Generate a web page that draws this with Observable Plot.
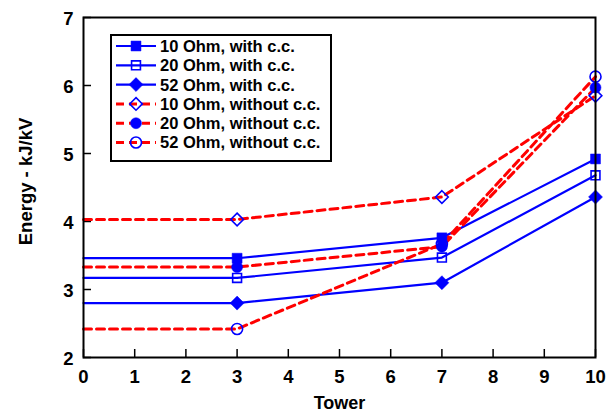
<!DOCTYPE html>
<html>
<head>
<meta charset="utf-8">
<script src="https://cdn.jsdelivr.net/npm/d3@7"></script>
<script src="https://cdn.jsdelivr.net/npm/@observablehq/plot@0.6"></script>
<style>
  html, body { margin: 0; padding: 0; background: #fff; }
  #wrap { position: relative; width: 613px; height: 414px; font-family: "Liberation Sans", Arial, sans-serif; }
  #legend { position: absolute; left: 110px; top: 34px; }
</style>
</head>
<body>
<div id="wrap"></div>
<script>
// ---- data ----
const towers = [0, 3, 7, 10];
const xTicks = [0, 1, 2, 3, 4, 5, 6, 7, 8, 9, 10];
const yTicks = [2, 3, 4, 5, 6, 7];

const seriesNames = [
  "10 Ohm, with c.c.",
  "20 Ohm, with c.c.",
  "52 Ohm, with c.c.",
  "10 Ohm, without c.c.",
  "20 Ohm, without c.c.",
  "52 Ohm, without c.c."
];
const ohm10_cc   = [3.46, 3.46, 3.76, 4.92];
const ohm20_cc   = [3.17, 3.17, 3.47, 4.68];
const ohm52_cc   = [2.80, 2.80, 3.10, 4.36];
const ohm10_nocc = [4.03, 4.03, 4.36, 5.85];
const ohm20_nocc = [3.33, 3.33, 3.63, 5.97];
const ohm52_nocc = [2.42, 2.42, 3.67, 6.13];
const seriesValues = [ohm10_cc, ohm20_cc, ohm52_cc, ohm10_nocc, ohm20_nocc, ohm52_nocc];

// styles
const BLUE = "#0000ff", RED = "#ff0000";
const styles = [
  {symbol: "square",   filled: true,  r: 5.6, dashed: false},
  {symbol: "square",   filled: false, r: 5.0, dashed: false},
  {symbol: "diamond2", filled: true,  r: 6.3, dashed: false},
  {symbol: "diamond2", filled: false, r: 5.7, dashed: true},
  {symbol: "circle",   filled: true,  r: 5.5, dashed: true},
  {symbol: "circle",   filled: false, r: 5.5, dashed: true}
];

const rows = [];
seriesNames.forEach((name, i) => {
  towers.forEach((t, j) => rows.push({series: name, idx: i, tower: t, energy: seriesValues[i][j]}));
});

const FONT = '"Liberation Sans", Arial, sans-serif';

const marks = [
  // inward ticks
  Plot.axisX({ticks: xTicks, tickSize: 8, dy: -8, text: null, label: null, stroke: "black", strokeWidth: 1.5}),
  Plot.axisY({ticks: yTicks, tickSize: 8, dx: 8, text: null, label: null, stroke: "black", strokeWidth: 1.5}),
  // tick labels
  Plot.axisX({ticks: xTicks, tickSize: 0, tickPadding: 12, tickFormat: "d", label: null, fontSize: 18.5, fontWeight: "bold", fill: "black"}),
  Plot.axisY({ticks: yTicks, tickSize: 0, tickPadding: 10, dy: 2, tickFormat: "d", label: null, fontSize: 18.5, fontWeight: "bold", fill: "black"}),
  // axis titles
  Plot.text(["Tower"], {frameAnchor: "bottom", textAnchor: "middle", dy: 51, text: d => d, fontSize: 18, fontWeight: "bold", fill: "black"}),
  Plot.text(["Energy - kJ/kV"], {frameAnchor: "left", textAnchor: "middle", dx: -57, dy: -6, rotate: -90, text: d => d, fontSize: 18.5, fontWeight: "bold", fill: "black"}),
  // lines
  Plot.line(rows.filter(d => !styles[d.idx].dashed), {x: "tower", y: "energy", z: "series", stroke: BLUE, strokeWidth: 2.2}),
  Plot.line(rows.filter(d => styles[d.idx].dashed), {x: "tower", y: "energy", z: "series", stroke: RED, strokeWidth: 3, strokeDasharray: "8,5"})
];
// markers (not at tower 0)
styles.forEach((s, i) => {
  marks.push(Plot.dot(rows.filter(d => d.idx === i && d.tower > 0), {
    x: "tower", y: "energy", symbol: () => s.symbol, r: s.r,
    fill: s.filled ? BLUE : "none", stroke: BLUE, strokeWidth: s.filled ? 0.5 : 1.6
  }));
});
marks.push(Plot.frame({stroke: "black", strokeWidth: 2}));

const chart = Plot.plot({
  width: 613, height: 414,
  marginLeft: 83, marginRight: 18, marginTop: 17, marginBottom: 57,
  x: {domain: [0, 10]},
  y: {domain: [2, 7]},
  symbol: {type: "identity"},
  style: {fontFamily: FONT, background: "white", color: "black"},
  marks
});
document.getElementById("wrap").appendChild(chart);

// ---- legend (inside the plot frame) ----
const LW = 222, LH = 128, rowH = 19.3, row0 = 12;
const leg = d3.select("#wrap").append("svg").attr("id", "legend")
  .attr("width", LW).attr("height", LH);
leg.append("rect").attr("x", 1).attr("y", 1).attr("width", LW - 2).attr("height", LH - 2)
  .attr("fill", "white").attr("stroke", "black").attr("stroke-width", 2);
const symMap = {square: d3.symbolSquare, diamond2: d3.symbolDiamond2, circle: d3.symbolCircle};
seriesNames.forEach((name, i) => {
  const s = styles[i];
  const y = row0 + i * rowH;
  const g = leg.append("g");
  g.append("line").attr("x1", 6).attr("x2", 46).attr("y1", y).attr("y2", y)
    .attr("stroke", s.dashed ? RED : BLUE).attr("stroke-width", s.dashed ? 3 : 2.2)
    .attr("stroke-dasharray", s.dashed ? "8,5" : null);
  g.append("path").attr("transform", `translate(26,${y})`)
    .attr("d", d3.symbol(symMap[s.symbol], s.r * s.r * Math.PI)())
    .attr("fill", s.filled ? BLUE : "none").attr("stroke", BLUE).attr("stroke-width", s.filled ? 0.5 : 1.6);
  g.append("text").attr("x", 50).attr("y", y).attr("dy", "0.36em")
    .attr("font-family", FONT).attr("font-size", 16.5).attr("font-weight", "bold")
    .attr("fill", "black").text(name);
});
</script>
</body>
</html>
